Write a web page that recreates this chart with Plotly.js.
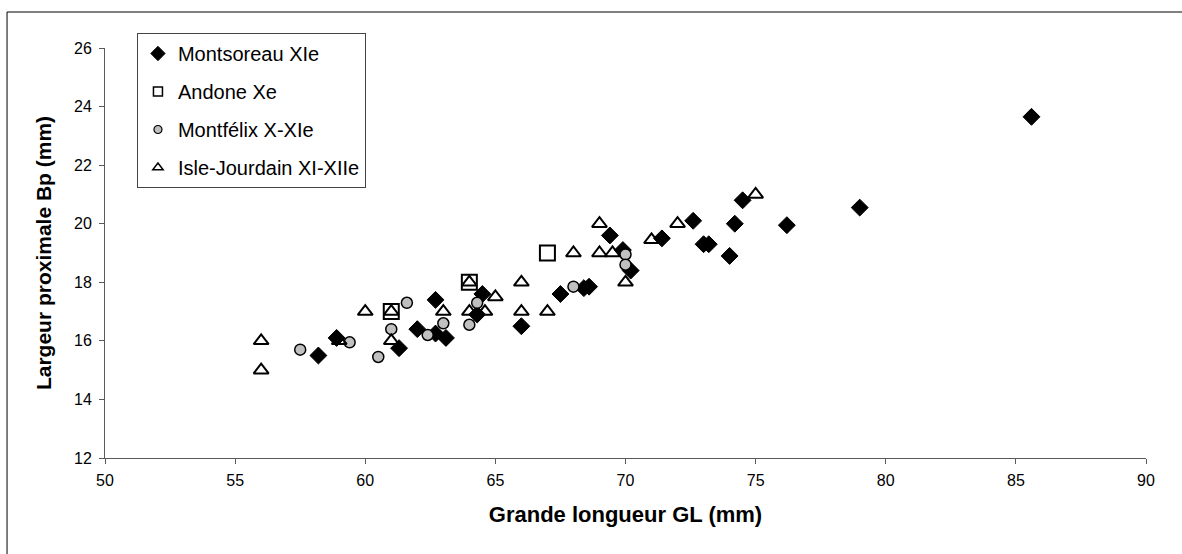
<!DOCTYPE html>
<html>
<head>
<meta charset="utf-8">
<script src="https://cdn.plot.ly/plotly-3.0.1.min.js"></script>
<style>html,body{margin:0;padding:0;background:#fff;}#chart{width:1182px;height:554px;}</style>
</head>
<body>
<div id="chart"></div>
<script>
// Montsoreau XIe
const montsoreauGL = [58.2, 58.9, 61.3, 62.0, 62.7, 62.7, 63.1, 64.3, 64.5, 66.0, 67.5, 68.4, 68.6, 69.4, 69.9, 70.2, 71.4, 72.6, 73.0, 73.2, 74.0, 74.2, 74.5, 76.2, 79.0, 85.6];
const montsoreauBp = [15.5, 16.1, 15.75, 16.4, 17.4, 16.25, 16.1, 16.9, 17.6, 16.5, 17.6, 17.8, 17.85, 19.6, 19.1, 18.4, 19.5, 20.1, 19.3, 19.3, 18.9, 20.0, 20.8, 19.95, 20.55, 23.65];
// Andone Xe
const andoneGL = [61, 64, 67];
const andoneBp = [17, 18, 19];
// Montfélix X-XIe
const montfelixGL = [57.5, 59.4, 60.5, 61.0, 61.6, 62.4, 63.0, 64.0, 64.3, 68.0, 70.0, 70.0];
const montfelixBp = [15.7, 15.95, 15.45, 16.4, 17.3, 16.2, 16.6, 16.55, 17.3, 17.85, 18.95, 18.6];
// Isle-Jourdain XI-XIIe
const isleGL = [56, 56, 59, 60, 61, 61, 63, 64, 64, 64.6, 65, 66, 66, 67, 68, 69, 69, 69.5, 70, 71, 72, 75];
const isleBp = [16, 15, 16, 17, 17, 16, 17, 18, 17, 17, 17.5, 18, 17, 17, 19, 20, 19, 19, 18, 19.45, 20, 21];

const seriesNames = ['Montsoreau XIe', 'Andone Xe', 'Montfélix X-XIe', 'Isle-Jourdain XI-XIIe'];
const xTicks = [50, 55, 60, 65, 70, 75, 80, 85, 90];
const yTicks = [12, 14, 16, 18, 20, 22, 24, 26];

const markers = [
  {symbol: 'diamond', size: 13, color: '#000', line: {color: '#000', width: 1}},
  {symbol: 'square-open', size: 15, color: '#000', line: {color: '#000', width: 2}},
  {symbol: 'circle', size: 11, color: '#c0c0c0', line: {color: '#000', width: 1.5}},
  {symbol: 'triangle-up-open', size: 13, color: '#000', line: {color: '#000', width: 2}}
];
const legendMarkers = [
  {symbol: 'diamond', size: 11, color: '#000', line: {color: '#000', width: 1}},
  {symbol: 'square-open', size: 9, color: '#000', line: {color: '#000', width: 1.5}},
  {symbol: 'circle', size: 8, color: '#c0c0c0', line: {color: '#000', width: 1.2}},
  {symbol: 'triangle-up-open', size: 9, color: '#000', line: {color: '#000', width: 1.5}}
];
const xs = [montsoreauGL, andoneGL, montfelixGL, isleGL];
const ys = [montsoreauBp, andoneBp, montfelixBp, isleBp];

const traces = [];
for (let i = 0; i < 4; i++) {
  traces.push({x: xs[i], y: ys[i], type: 'scatter', mode: 'markers', name: seriesNames[i],
    marker: markers[i], showlegend: false, hoverinfo: 'x+y'});
}
for (let i = 0; i < 4; i++) {
  traces.push({x: [null], y: [null], type: 'scatter', mode: 'markers', name: seriesNames[i],
    marker: legendMarkers[i], showlegend: true, legendgroup: 'g' + i});
}

const axisColor = '#5a5a5a';
const layout = {
  width: 1182, height: 554,
  margin: {l: 105, r: 36, t: 48, b: 96},
  paper_bgcolor: '#fff', plot_bgcolor: '#fff',
  font: {family: 'Liberation Sans, Arial, sans-serif', color: '#000', size: 16},
  showlegend: true,
  legend: {x: 0.0307, xanchor: 'left', y: 1.0366, yanchor: 'top',
    bordercolor: '#444', borderwidth: 1, bgcolor: '#fff',
    font: {size: 20, family: 'Liberation Sans, Arial, sans-serif'},
    tracegroupgap: 9, itemwidth: 30},
  xaxis: {range: [50, 90], tickvals: xTicks, ticktext: xTicks.map(String),
    showgrid: false, zeroline: false, showline: true, linecolor: axisColor, linewidth: 1,
    ticks: 'outside', ticklen: 5, tickcolor: axisColor, tickfont: {size: 16}, ticklabelstandoff: 3,
    title: {text: '<b>Grande longueur GL (mm)</b>', font: {size: 22}, standoff: 18}},
  yaxis: {range: [12, 26], tickvals: yTicks, ticktext: yTicks.map(String),
    showgrid: false, zeroline: false, showline: true, linecolor: axisColor, linewidth: 1,
    ticks: 'outside', ticklen: 5, tickcolor: axisColor, tickfont: {size: 16}, ticklabelstandoff: 4,
    title: {text: '<b>Largeur proximale Bp (mm)</b>', font: {size: 21}, standoff: 16}},
  shapes: [
    {type: 'line', xref: 'paper', yref: 'paper', x0: -0.0941, x1: 1.2, y0: 1.0878, y1: 1.0878,
      line: {color: '#000', width: 1}},
    {type: 'line', xref: 'paper', yref: 'paper', x0: -0.0941, x1: -0.0941, y0: -0.5, y1: 1.0878,
      line: {color: '#000', width: 1}}
  ]
};

Plotly.newPlot('chart', traces, layout, {displayModeBar: false, staticPlot: true});
</script>
</body>
</html>
